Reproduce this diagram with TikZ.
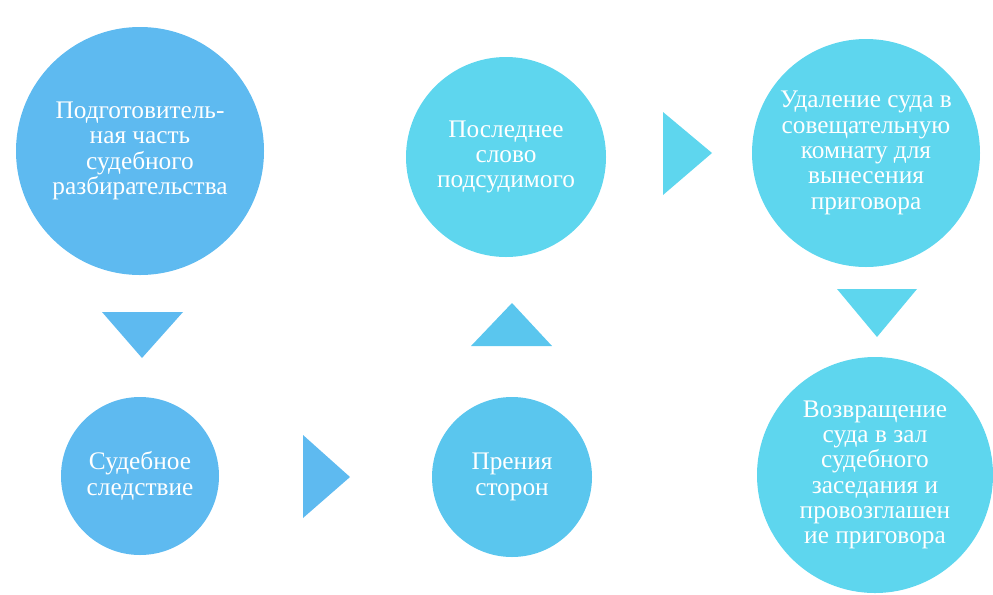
\documentclass[tikz,border=0pt]{standalone}
\usepackage{fontspec}
\setmainfont{Liberation Serif}
\usepackage{tikz}

\definecolor{azul}{RGB}{94,186,240}
\definecolor{medio}{RGB}{90,198,238}
\definecolor{cian}{RGB}{94,214,238}

\tikzset{
  etapa/.style={circle, inner sep=0pt, text=white, align=center,
    font=\fontsize{18}{18}\selectfont},
}

\begin{document}
\begin{tikzpicture}[x=0.025cm, y=-0.025cm]
		
		% Marco
		\useasboundingbox (0,0) rectangle (993,594);
		
		% Etapas
		\node[etapa, fill=azul, minimum size=248*0.025cm] (prep) at (140,151)
			{Подготовитель-\\ная часть\\судебного\\разбирательства};
		\node[etapa, fill=azul, minimum size=158*0.025cm] (sled) at (140,476)
			{Судебное\\следствие};
		\node[etapa, fill=medio, minimum size=160*0.025cm] (pren) at (512,477)
			{Прения\\сторон};
		\node[etapa, fill=cian, minimum size=200*0.025cm] (slovo) at (506,157)
			{Последнее\\слово\\подсудимого};
		\node[etapa, fill=cian, minimum size=228*0.025cm] (udal) at (866,153)
			{Удаление суда в\\совещательную\\комнату для\\вынесения\\приговора};
		\node[etapa, fill=cian, minimum size=236*0.025cm] (vozv) at (875,475)
			{Возвращение\\суда в зал\\судебного\\заседания и\\провозглашен\\ие приговора};
		
		% Flechas triangulares
		\fill[azul] (102,312) -- (183,312) -- (142,358) -- cycle;
		\fill[azul] (303,435) -- (303,518) -- (350,477) -- cycle;
		\fill[medio] (471,346) -- (552,346) -- (512,303) -- cycle;
		\fill[cian] (663,112) -- (663,195) -- (712,153) -- cycle;
		\fill[cian] (837,289) -- (917,289) -- (877,337) -- cycle;
		
		\end{tikzpicture}
\end{document}
